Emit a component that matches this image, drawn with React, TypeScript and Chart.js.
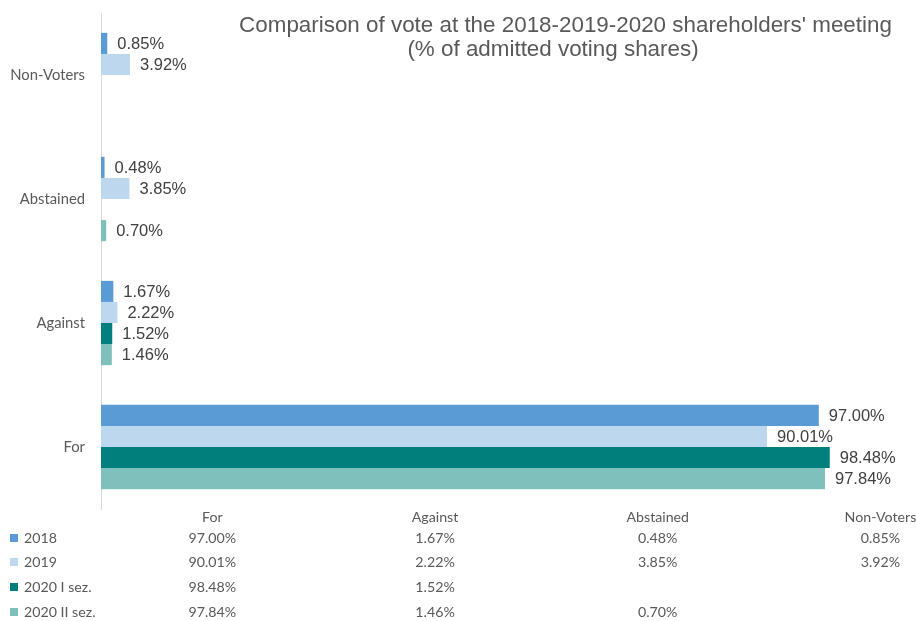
import React, { useEffect, useRef } from "react";
import { Chart, registerables } from "chart.js";

Chart.register(...registerables);

const categories = ["For", "Against", "Abstained", "Non-Voters"];
const seriesNames = ["2018", "2019", "2020 I sez.", "2020 II sez."];
const values2018: (number | null)[] = [97.0, 1.67, 0.48, 0.85];
const values2019: (number | null)[] = [90.01, 2.22, 3.85, 3.92];
const values2020I: (number | null)[] = [98.48, 1.52, null, null];
const values2020II: (number | null)[] = [97.84, 1.46, 0.7, null];
const seriesColors = ["#5B9BD5", "#BDD7EE", "#007F7C", "#7FC0BD"];
const titleLines = [
  "Comparison of vote at the 2018-2019-2020 shareholders' meeting",
  "(% of admitted voting shares)",
];

const fmt = (v: number) => v.toFixed(2) + "%";

const labelsPlugin = {
  id: "valueLabels",
  afterDatasetsDraw(chart: any) {
    const ctx = chart.ctx;
    ctx.save();
    ctx.font = "16.5px 'Liberation Sans', Arial, sans-serif";
    ctx.fillStyle = "#404040";
    ctx.textAlign = "left";
    ctx.textBaseline = "middle";
    chart.data.datasets.forEach((ds: any, di: number) => {
      const meta = chart.getDatasetMeta(di);
      meta.data.forEach((bar: any, i: number) => {
        const v = ds.data[i];
        if (v === null || v === undefined) return;
        ctx.fillText(fmt(v), bar.x + 10, bar.y + 1);
      });
    });
    ctx.restore();
  },
};

const titlePlugin = {
  id: "customTitle",
  afterDraw(chart: any) {
    const ctx = chart.ctx;
    ctx.save();
    ctx.fillStyle = "#595959";
    ctx.textAlign = "center";
    ctx.textBaseline = "middle";
    ctx.font = "22.4px 'Liberation Sans', Arial, sans-serif";
    ctx.fillText(titleLines[0], 565.5, 26);
    ctx.fillText(titleLines[1], 553, 50);
    ctx.restore();
  },
};

const tablePlugin = {
  id: "dataTable",
  afterDraw(chart: any) {
    const ctx = chart.ctx;
    const area = chart.chartArea;
    const colW = 222.7;
    const rowY = [517, 538, 562, 587, 612];
    ctx.save();
    ctx.font = "14.2px Lato, 'Open Sans', sans-serif";
    ctx.fillStyle = "#595959";
    ctx.textBaseline = "middle";
    ctx.textAlign = "center";
    categories.forEach((c, ci) => {
      ctx.fillText(c, area.left + (ci + 0.5) * colW, rowY[0]);
    });
    chart.data.datasets.forEach((ds: any, di: number) => {
      const y = rowY[di + 1];
      ctx.fillStyle = ds.backgroundColor;
      ctx.fillRect(10, y - 4, 8, 8);
      ctx.fillStyle = "#595959";
      ctx.textAlign = "left";
      ctx.fillText(ds.label, 24, y);
      ctx.textAlign = "center";
      ds.data.forEach((v: number | null, ci: number) => {
        if (v === null || v === undefined) return;
        ctx.fillText(fmt(v), area.left + (ci + 0.5) * colW, y);
      });
    });
    ctx.restore();
  },
};

export default function App() {
  const ref = useRef<HTMLCanvasElement | null>(null);
  useEffect(() => {
    if (!ref.current) return;
    const all = [values2018, values2019, values2020I, values2020II];
    const chart = new Chart(ref.current, {
      type: "bar",
      data: {
        labels: categories,
        datasets: seriesNames.map((name, i) => ({
          label: name,
          data: all[i],
          backgroundColor: seriesColors[i],
          borderWidth: 0,
          barPercentage: 1,
          categoryPercentage: 0.68,
        })),
      },
      options: {
        indexAxis: "y",
        animation: false,
        responsive: false,
        maintainAspectRatio: false,
        layout: { padding: { top: 13, bottom: 112, right: 75, left: 0 } },
        plugins: {
          legend: { display: false },
          title: { display: false },
          tooltip: { enabled: false },
        },
        scales: {
          x: { display: false, min: 0, max: 100 },
          y: {
            reverse: true,
            grid: { display: false },
            border: { display: true, color: "#D9D9D9", width: 1 },
            ticks: {
              color: "#595959",
              font: { family: "Lato, 'Open Sans', sans-serif", size: 14.8 },
              padding: 8,
            },
            afterFit: (s: any) => {
              s.width = 101;
              s.paddingTop = 0;
              s.paddingBottom = 0;
            },
          },
        },
      },
      plugins: [labelsPlugin, titlePlugin, tablePlugin],
    });
    return () => chart.destroy();
  }, []);
  return (
    <div style={{ position: "fixed", left: 0, top: 0, width: 916, height: 621, background: "#fff" }}>
      <canvas ref={ref} width={916} height={621} style={{ width: 916, height: 621 }} />
    </div>
  );
}
